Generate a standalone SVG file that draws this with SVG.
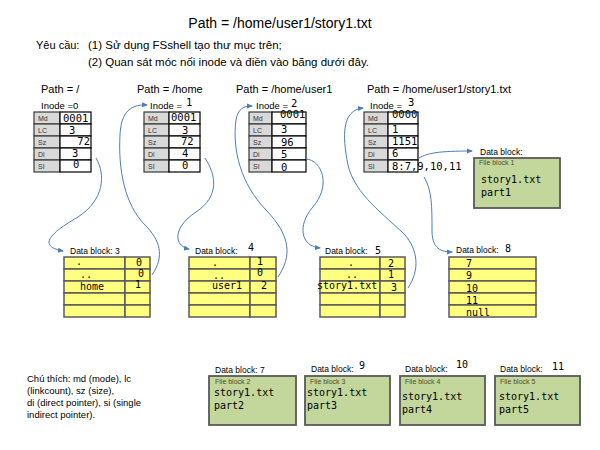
<svg xmlns="http://www.w3.org/2000/svg" width="600" height="450" viewBox="0 0 600 450">
<defs>
<style>
.t{font-family:"Liberation Sans",Arial,sans-serif;fill:#000}
.m{font-family:"DejaVu Sans Mono","Liberation Mono",monospace;fill:#000}
.lab{font-family:"Liberation Sans",Arial,sans-serif;font-size:8.5px;fill:#000}
.il{font-family:"Liberation Sans",Arial,sans-serif;font-size:9.5px;fill:#000}
.g{fill:#d9d9d9;stroke:#3a3a3a;stroke-width:1.2}
.w{fill:#fff;stroke:#000;stroke-width:1.2}
.y{fill:#ffff80;stroke:#595959;stroke-width:1.5}
.gr{fill:#c3d69b;stroke:#595959;stroke-width:1.8}
.k{font-family:"Liberation Sans",Arial,sans-serif;font-size:7px;fill:#333}
.fb{font-family:"Liberation Sans",Arial,sans-serif;font-size:7px;fill:#4f4f2a}
.c{fill:none;stroke:#4a7ebb;stroke-width:1}
</style>
<marker id="ah" markerWidth="6" markerHeight="6" refX="5" refY="3" orient="auto" markerUnits="userSpaceOnUse">
<path d="M0,0.5 L6,3 L0,5.5 z" fill="#4a7ebb"/>
</marker>
</defs>
<rect width="600" height="450" fill="#fff"/>

<g id="header">
<text class="t" x="280" y="28" font-size="14" text-anchor="middle">Path = /home/user1/story1.txt</text>
<text class="t" x="36" y="49" font-size="11">Yêu cầu:</text>
<text class="t" x="88" y="49" font-size="11.5">(1) Sử dụng FSshell tạo thư mục trên;</text>
<text class="t" x="88" y="66" font-size="11.5">(2) Quan sát móc nối inode và điền vào  bãng dưới đây.</text>
<text class="t" x="41" y="93" font-size="11">Path = /</text>
<text class="t" x="137" y="93" font-size="11">Path = /home</text>
<text class="t" x="236" y="93" font-size="11">Path = /home/user1</text>
<text class="t" x="367" y="93" font-size="11">Path = /home/user1/story1.txt</text>
</g>

<g id="inode0">
<text class="il" x="41" y="109">Inode =0</text>
<rect class="g" x="34" y="112" width="26" height="12"/><rect class="w" x="60" y="112" width="31" height="12"/>
<rect class="g" x="34" y="124" width="26" height="12"/><rect class="w" x="60" y="124" width="31" height="12"/>
<rect class="g" x="34" y="136" width="26" height="12"/><rect class="w" x="60" y="136" width="31" height="12"/>
<rect class="g" x="34" y="148" width="26" height="12"/><rect class="w" x="60" y="148" width="31" height="12"/>
<rect class="g" x="34" y="160" width="26" height="12"/><rect class="w" x="60" y="160" width="31" height="12"/>
<text class="k" x="38" y="121">Md</text><text class="k" x="38" y="133">LC</text><text class="k" x="38" y="145">Sz</text><text class="k" x="38" y="157">Di</text><text class="k" x="38" y="169">SI</text>
<text class="m" x="63" y="122" font-size="10.5">0001</text>
<text class="m" x="69" y="134" font-size="10.5">3</text>
<text class="m" x="90" y="145" font-size="10.5" text-anchor="end">72</text>
<text class="m" x="72" y="157" font-size="10.5">3</text>
<text class="m" x="73" y="168" font-size="10.5">0</text>
</g>

<g id="inode1">
<text class="il" x="150" y="109">Inode = </text>
<text class="m" x="186" y="106" font-size="10.5">1</text>
<rect class="g" x="144" y="112" width="25" height="12"/><rect class="w" x="169" y="112" width="31" height="12"/>
<rect class="g" x="144" y="124" width="25" height="12"/><rect class="w" x="169" y="124" width="31" height="12"/>
<rect class="g" x="144" y="136" width="25" height="12"/><rect class="w" x="169" y="136" width="31" height="12"/>
<rect class="g" x="144" y="148" width="25" height="12"/><rect class="w" x="169" y="148" width="31" height="12"/>
<rect class="g" x="144" y="160" width="25" height="12"/><rect class="w" x="169" y="160" width="31" height="12"/>
<text class="k" x="148" y="121">Md</text><text class="k" x="148" y="133">LC</text><text class="k" x="148" y="145">Sz</text><text class="k" x="148" y="157">Di</text><text class="k" x="148" y="169">SI</text>
<text class="m" x="171" y="121" font-size="10.5">0001</text>
<text class="m" x="182" y="134" font-size="10.5">3</text>
<text class="m" x="181" y="145" font-size="10.5">72</text>
<text class="m" x="182" y="157" font-size="10.5">4</text>
<text class="m" x="182" y="169" font-size="10.5">0</text>
</g>

<g id="inode2">
<text class="il" x="256" y="109">Inode = </text>
<text class="m" x="291" y="107" font-size="10.5">2</text>
<rect class="g" x="249" y="112" width="23" height="12"/><rect class="w" x="272" y="112" width="34" height="12"/>
<rect class="g" x="249" y="124" width="23" height="12"/><rect class="w" x="272" y="124" width="34" height="12"/>
<rect class="g" x="249" y="136" width="23" height="12"/><rect class="w" x="272" y="136" width="34" height="12"/>
<rect class="g" x="249" y="148" width="23" height="12"/><rect class="w" x="272" y="148" width="34" height="12"/>
<rect class="g" x="249" y="160" width="23" height="12"/><rect class="w" x="272" y="160" width="34" height="12"/>
<text class="k" x="253" y="121">Md</text><text class="k" x="253" y="133">LC</text><text class="k" x="253" y="145">Sz</text><text class="k" x="253" y="157">Di</text><text class="k" x="253" y="169">SI</text>
<text class="m" x="280" y="118" font-size="10.5">0001</text>
<text class="m" x="281" y="133" font-size="10.5">3</text>
<text class="m" x="281" y="146" font-size="10.5">96</text>
<text class="m" x="281" y="158" font-size="10.5">5</text>
<text class="m" x="281" y="171" font-size="10.5">0</text>
</g>

<g id="inode3">
<text class="il" x="370" y="109">Inode = </text>
<text class="m" x="408" y="106" font-size="10.5">3</text>
<rect class="g" x="364" y="112" width="24" height="12"/><rect class="w" x="388" y="112" width="30" height="12"/>
<rect class="g" x="364" y="124" width="24" height="12"/><rect class="w" x="388" y="124" width="30" height="12"/>
<rect class="g" x="364" y="136" width="24" height="12"/><rect class="w" x="388" y="136" width="30" height="12"/>
<rect class="g" x="364" y="148" width="24" height="12"/><rect class="w" x="388" y="148" width="30" height="12"/>
<rect class="g" x="364" y="160" width="24" height="12"/><rect class="w" x="388" y="160" width="30" height="12"/>
<text class="k" x="368" y="121">Md</text><text class="k" x="368" y="133">LC</text><text class="k" x="368" y="145">Sz</text><text class="k" x="368" y="157">Di</text><text class="k" x="368" y="169">SI</text>
<text class="m" x="392" y="118" font-size="10.5">0000</text>
<text class="m" x="392" y="133" font-size="10.5">1</text>
<text class="m" x="392" y="145" font-size="10.5">1151</text>
<text class="m" x="392" y="157" font-size="10.5">6</text>
<text class="m" x="392" y="170" font-size="10.5">8:7,9,10,11</text>
</g>

<g id="fileblock1">
<text class="lab" x="480" y="155">Data block:</text>
<rect class="gr" x="474" y="158" width="86" height="50"/>
<text class="fb" x="479" y="165">File block 1</text>
<text class="m" x="481" y="183" font-size="10">story1.txt</text>
<text class="m" x="481" y="196" font-size="10">part1</text>
</g>

<g id="datablock3">
<text class="lab" x="70" y="254">Data block: 3</text>
<rect class="y" x="64" y="257" width="61" height="12"/><rect class="y" x="125" y="257" width="25" height="12"/>
<rect class="y" x="64" y="269" width="61" height="12"/><rect class="y" x="125" y="269" width="25" height="12"/>
<rect class="y" x="64" y="281" width="61" height="12"/><rect class="y" x="125" y="281" width="25" height="12"/>
<rect class="y" x="64" y="293" width="61" height="12"/><rect class="y" x="125" y="293" width="25" height="12"/>
<rect class="y" x="64" y="305" width="61" height="12"/><rect class="y" x="125" y="305" width="25" height="12"/>
<text class="m" x="76" y="265" font-size="10">.</text>
<text class="m" x="136" y="266" font-size="10">0</text>
<text class="m" x="80" y="278" font-size="10">..</text>
<text class="m" x="138" y="277" font-size="10">0</text>
<text class="m" x="80" y="290" font-size="10">home</text>
<text class="m" x="135" y="288" font-size="10">1</text>
</g>

<g id="datablock4">
<text class="lab" x="195" y="254">Data block:</text>
<text class="m" x="248" y="251" font-size="10">4</text>
<rect class="y" x="189" y="257" width="61" height="12"/><rect class="y" x="250" y="257" width="26" height="12"/>
<rect class="y" x="189" y="269" width="61" height="12"/><rect class="y" x="250" y="269" width="26" height="12"/>
<rect class="y" x="189" y="281" width="61" height="12"/><rect class="y" x="250" y="281" width="26" height="12"/>
<rect class="y" x="189" y="293" width="61" height="12"/><rect class="y" x="250" y="293" width="26" height="12"/>
<rect class="y" x="189" y="305" width="61" height="12"/><rect class="y" x="250" y="305" width="26" height="12"/>
<text class="m" x="212" y="266" font-size="10">.</text>
<text class="m" x="257" y="265" font-size="10">1</text>
<text class="m" x="213" y="279" font-size="10">..</text>
<text class="m" x="257" y="276" font-size="10">0</text>
<text class="m" x="212" y="289" font-size="10">user1</text>
<text class="m" x="261" y="289" font-size="10">2</text>
</g>

<g id="datablock5">
<text class="lab" x="325" y="254">Data block:</text>
<text class="m" x="375" y="254" font-size="10">5</text>
<rect class="y" x="320" y="257" width="60" height="12"/><rect class="y" x="380" y="257" width="25" height="12"/>
<rect class="y" x="320" y="269" width="60" height="12"/><rect class="y" x="380" y="269" width="25" height="12"/>
<rect class="y" x="320" y="281" width="60" height="12"/><rect class="y" x="380" y="281" width="25" height="12"/>
<rect class="y" x="320" y="293" width="60" height="12"/><rect class="y" x="380" y="293" width="25" height="12"/>
<rect class="y" x="320" y="305" width="60" height="12"/><rect class="y" x="380" y="305" width="25" height="12"/>
<text class="m" x="348" y="266" font-size="10">.</text>
<text class="m" x="346" y="278" font-size="10">..</text>
<text class="m" x="388" y="267" font-size="10">2</text>
<text class="m" x="388" y="278" font-size="10">1</text>
<text class="m" x="317" y="289" font-size="10">story1.txt</text>
<text class="m" x="391" y="291" font-size="10">3</text>
</g>

<g id="datablock8">
<text class="lab" x="456" y="253">Data block:</text>
<text class="m" x="505" y="252" font-size="10">8</text>
<rect class="y" x="449" y="257" width="87" height="12"/>
<rect class="y" x="449" y="269" width="87" height="12"/>
<rect class="y" x="449" y="281" width="87" height="12"/>
<rect class="y" x="449" y="293" width="87" height="12"/>
<rect class="y" x="449" y="305" width="87" height="12"/>
<text class="m" x="466" y="267" font-size="10">7</text>
<text class="m" x="466" y="279" font-size="10">9</text>
<text class="m" x="466" y="292" font-size="10">10</text>
<text class="m" x="466" y="304" font-size="10">11</text>
<text class="m" x="466" y="316" font-size="10">null</text>
</g>

<g id="legend">
<text class="t" x="27" y="382" font-size="9.5">Chú thích: md (mode), lc</text>
<text class="t" x="27" y="394" font-size="9.5">(linkcount), sz (size),</text>
<text class="t" x="27" y="406" font-size="9.5">di (direct pointer), si (single</text>
<text class="t" x="27" y="418" font-size="9.5">indirect pointer).</text>
</g>

<g id="fileblock2">
<text class="lab" x="215" y="373">Data block: 7</text>
<rect class="gr" x="209" y="376" width="87" height="49"/>
<text class="fb" x="215" y="384">File block 2</text>
<text class="m" x="214" y="396" font-size="10">story1.txt</text>
<text class="m" x="214" y="409" font-size="10">part2</text>
</g>

<g id="fileblock3">
<text class="lab" x="311" y="372">Data block:</text>
<text class="m" x="359" y="369" font-size="10">9</text>
<rect class="gr" x="305" y="376" width="85" height="49"/>
<text class="fb" x="310" y="384">File block 3</text>
<text class="m" x="307" y="396" font-size="10">story1.txt</text>
<text class="m" x="307" y="409" font-size="10">part3</text>
</g>

<g id="fileblock4">
<text class="lab" x="405" y="372">Data block:</text>
<text class="m" x="456" y="368" font-size="10">10</text>
<rect class="gr" x="400" y="376" width="85" height="49"/>
<text class="fb" x="405" y="384">File block 4</text>
<text class="m" x="402" y="400" font-size="10">story1.txt</text>
<text class="m" x="402" y="413" font-size="10">part4</text>
</g>

<g id="fileblock5">
<text class="lab" x="500" y="372">Data block:</text>
<text class="m" x="552" y="370" font-size="10">11</text>
<rect class="gr" x="495" y="376" width="85" height="49"/>
<text class="fb" x="500" y="384">File block 5</text>
<text class="m" x="499" y="400" font-size="10">story1.txt</text>
<text class="m" x="499" y="413" font-size="10">part5</text>
</g>

<g id="connectors">
<path class="c" marker-end="url(#ah)" d="M96 158 C106 175 104 200 78 217 C52 232 36 246 63 251"/>
<path class="c" marker-end="url(#ah)" d="M152 275 C165 256 160 240 145 225 C125 205 118 170 120 135 C121 115 128 104 147 105"/>
<path class="c" marker-end="url(#ah)" d="M205 158 C216 175 220 196 196 212 C172 228 174 246 189 249"/>
<path class="c" marker-end="url(#ah)" d="M278 277 C292 256 291 236 266 210 C241 184 232 150 236 120 C238 109 243 106 252 106"/>
<path class="c" marker-end="url(#ah)" d="M306 159 C322 160 332 186 312 208 C298 225 300 246 320 248"/>
<path class="c" marker-end="url(#ah)" d="M408 288 C420 270 418 250 405 235 C385 215 355 195 348 165 C342 135 342 110 363 108"/>
<path class="c" marker-end="url(#ah)" d="M419 158 C428 153 438 151 472 151"/>
<path class="c" marker-end="url(#ah)" d="M424 177 C432 190 432 207 432 230 C432 246 438 252 452 252"/>
</g>
</svg>
